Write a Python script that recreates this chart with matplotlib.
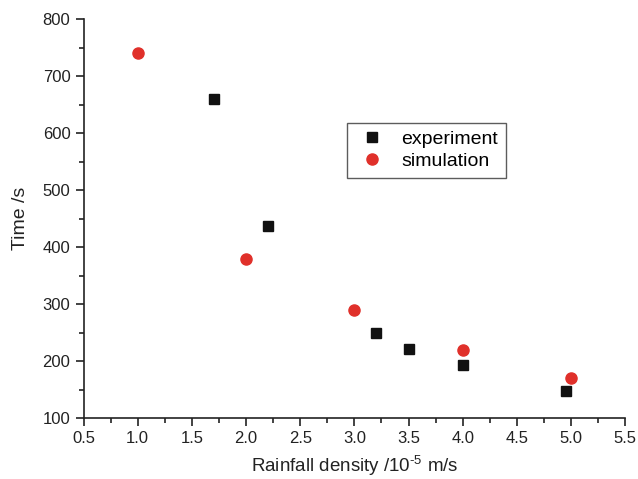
import matplotlib
matplotlib.use("Agg")
import matplotlib.pyplot as plt
from matplotlib.ticker import MultipleLocator

plt.rcParams['font.family'] = ['Liberation Sans', 'DejaVu Sans']
plt.rcParams['mathtext.fontset'] = 'custom'
plt.rcParams['mathtext.rm'] = 'Liberation Sans'

# Data
exp_x = [1.7, 2.2, 3.2, 3.5, 4.0, 4.95]
exp_y = [660, 438, 250, 222, 193, 147]
sim_x = [1.0, 2.0, 3.0, 4.0, 5.0]
sim_y = [740, 380, 290, 220, 170]

fig = plt.figure(figsize=(6.38, 4.79), dpi=100)
ax = fig.add_axes([0.131, 0.127, 0.849, 0.833])

ax.plot(exp_x, exp_y, 's', color='#111111', markersize=7, label='experiment')
ax.plot(sim_x, sim_y, 'o', color='#e0302a', markersize=8, label='simulation')

ax.set_xlim(0.5, 5.5)
ax.set_ylim(100, 800)
ax.xaxis.set_major_locator(MultipleLocator(0.5))
ax.xaxis.set_minor_locator(MultipleLocator(0.25))
ax.yaxis.set_major_locator(MultipleLocator(100))
ax.yaxis.set_minor_locator(MultipleLocator(50))
ax.xaxis.set_major_formatter(plt.FormatStrFormatter('%.1f'))

ax.spines['top'].set_visible(False)
ax.spines['right'].set_visible(False)
for s in ('left', 'bottom'):
    ax.spines[s].set_linewidth(1.2)
    ax.spines[s].set_color('#222222')

ax.tick_params(which='major', direction='out', length=6, width=1.2,
               labelsize=12, colors='#222222')
ax.tick_params(which='minor', direction='out', length=3.5, width=1.2,
               colors='#222222')

ax.set_xlabel('Rainfall density /10$^{\\text{-5}}$ m/s', fontsize=13.5,
              color='#222222', labelpad=5)
ax.set_ylabel('Time /s', fontsize=14, color='#222222', labelpad=10)

leg = ax.legend(loc='upper left', bbox_to_anchor=(0.486, 0.74), fontsize=14,
                frameon=True, fancybox=False, edgecolor='#333333',
                handletextpad=0.6, borderpad=0.4, labelspacing=0.2,
                handlelength=1.8, borderaxespad=0)
leg.get_frame().set_linewidth(1.0)

fig.savefig('out.png', dpi=100)
